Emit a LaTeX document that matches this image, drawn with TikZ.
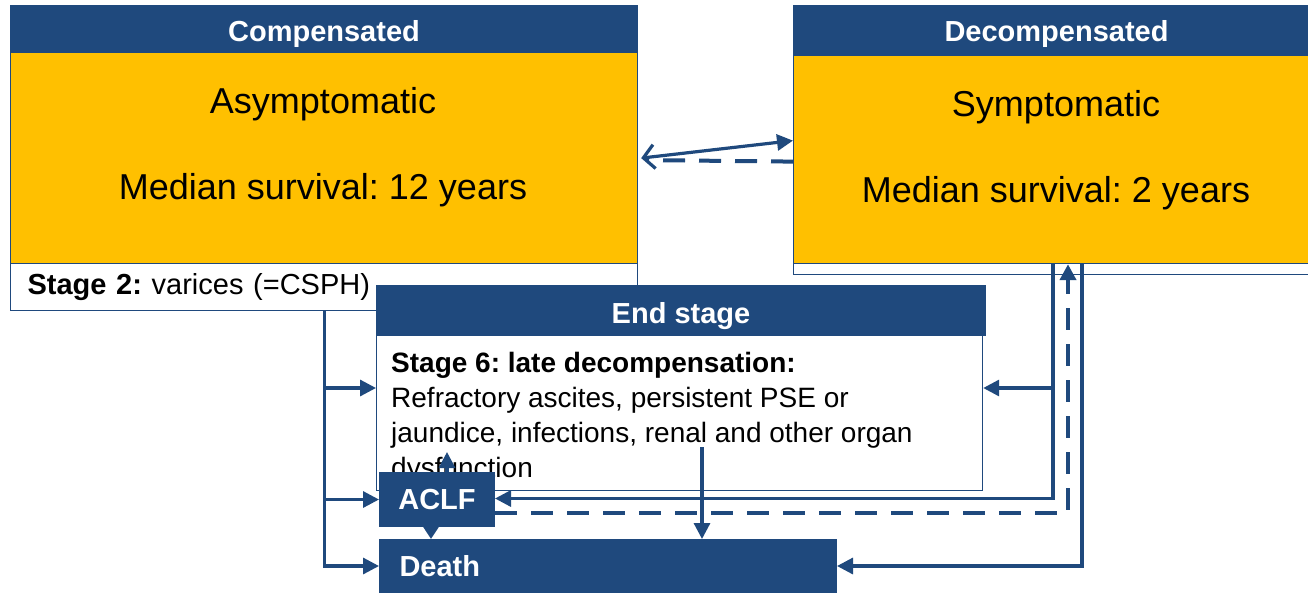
\documentclass[tikz,border=0pt]{standalone}
\usepackage{fontspec}
\setmainfont{Liberation Sans}
\usetikzlibrary{arrows.meta,calc}
\definecolor{navy}{HTML}{1F497D}
\definecolor{gold}{HTML}{FFC000}
\frenchspacing
\begin{document}
\begin{tikzpicture}[x=1pt,y=-1pt,
  head/.style={fill=navy, draw=navy, line width=1pt, text=white, font=\fontsize{29}{30}\selectfont\bfseries, anchor=north west, inner sep=0pt},
  title/.style={head, text height=25pt, text depth=0pt},
  ybox/.style={fill=gold, draw=navy, line width=1.2pt, anchor=north west, inner sep=0pt},
  wbox/.style={fill=white, draw=navy, line width=1.2pt, anchor=north west, inner sep=0pt},
  big/.style={font=\fontsize{36}{40}\selectfont, inner sep=0pt},
  mid/.style={font=\fontsize{28}{35}\selectfont, inner sep=0pt},
  conn/.style={draw=navy, line width=3.2pt, -{Triangle[length=16pt,width=16pt]}},
  dconn/.style={conn, line width=4pt, dash pattern=on 22pt off 14pt},
]
\useasboundingbox (0,0) rectangle (1308,592);
\fill[white] (0,0) rectangle (1308,592);
\clip (0,0) rectangle (1308,592);

% Compensated
\node[title, minimum width=627pt, minimum height=47pt] (comphead) at (10,5) {Compensated};
\node[ybox, minimum width=627pt, minimum height=211pt] (compbody) at (10,52) {};
\node[wbox, text width=593pt, inner xsep=17pt, minimum height=47pt, align=left,
      font=\fontsize{29}{32}\selectfont] (compstrip) at (10,263) {\textbf{Stage 2:} varices (=CSPH)};
\node[big] (asym) at (323,104) {Asymptomatic};
\node[big] (msurv1) at (323,190) {Median survival: 12 years};

% Decompensated
\node[title, text height=22pt, minimum width=526pt, minimum height=50pt] (dechead) at (793,5) {Decompensated};
\node[ybox, minimum width=526pt, minimum height=208pt] (decbody) at (793,55) {};
\node[wbox, minimum width=526pt, minimum height=11pt] (decstrip) at (793,263) {};
\node[big] (sym) at (1056,107) {Symptomatic};
\node[big] (msurv2) at (1056,193) {Median survival: 2 years};

% End stage
\node[title, minimum width=609pt, minimum height=50pt] (endhead) at (376,285) {End stage};
\node[wbox, minimum width=606pt, minimum height=155pt] (endbody) at (376,335) {};
\node[mid, anchor=north west, align=left] (endtext) at (391,352)
  {\textbf{Stage 6: late decompensation:}\\
   Refractory ascites, persistent PSE or\\
   jaundice, infections, renal and other organ\\
   dysfunction};

% ACLF and Death
\node[head, minimum width=115pt, minimum height=54pt] (aclf) at (379,472) {ACLF};
\node[head, text width=417pt, inner xsep=20pt, minimum height=53pt, align=left] (death) at (379,539) {Death};

% helper coordinates
\coordinate (yA) at (0,388);
\coordinate (xR1) at (1053,0);
\coordinate (xR2) at (1068,0);
\coordinate (xR3) at (1082,0);
\coordinate (xE) at (702,447);
\coordinate (xU) at (447,0);
\coordinate (xD) at (431,0);

% compensated <-> decompensated
\draw[draw=navy, line width=3.2pt, {Straight Barb[length=11pt,width=24pt]}-{Triangle[length=16pt,width=16pt]}]
  ([xshift=3pt]compbody.east) -- ([yshift=19pt]decbody.west);
\draw[navy, line width=4pt, dash pattern=on 22pt off 14pt]
  ([yshift=-2pt]decbody.west) -- ([xshift=8pt,yshift=-2pt]compbody.east);

% left trunk from compensated
\draw[conn] (compstrip.south) |- (death.west);
\draw[conn] (compstrip.south |- aclf.west) -- (aclf.west);
\draw[conn] (compstrip.south |- yA) -- (endbody.west |- yA);

% right trunks from decompensated
\draw[conn] (decbody.south -| xR1) |- ([yshift=1pt]aclf.east);
\draw[conn] (xR1 |- yA) -- (endbody.east |- yA);
\draw[dconn] ([yshift=-13pt]aclf.east) -| (decbody.south -| xR2);
\draw[conn] (decbody.south -| xR3) |- (death.east);

% end stage -> death
\draw[conn] (xE) -- (death.north -| xE);
% ACLF -> end stage, ACLF -> death
\draw[conn] (aclf.north -| xU) -- ++(0,-20);
\draw[conn, -{Triangle[length=13pt,width=16pt]}] (aclf.south -| xD) -- (death.north -| xD);
\end{tikzpicture}
\end{document}
